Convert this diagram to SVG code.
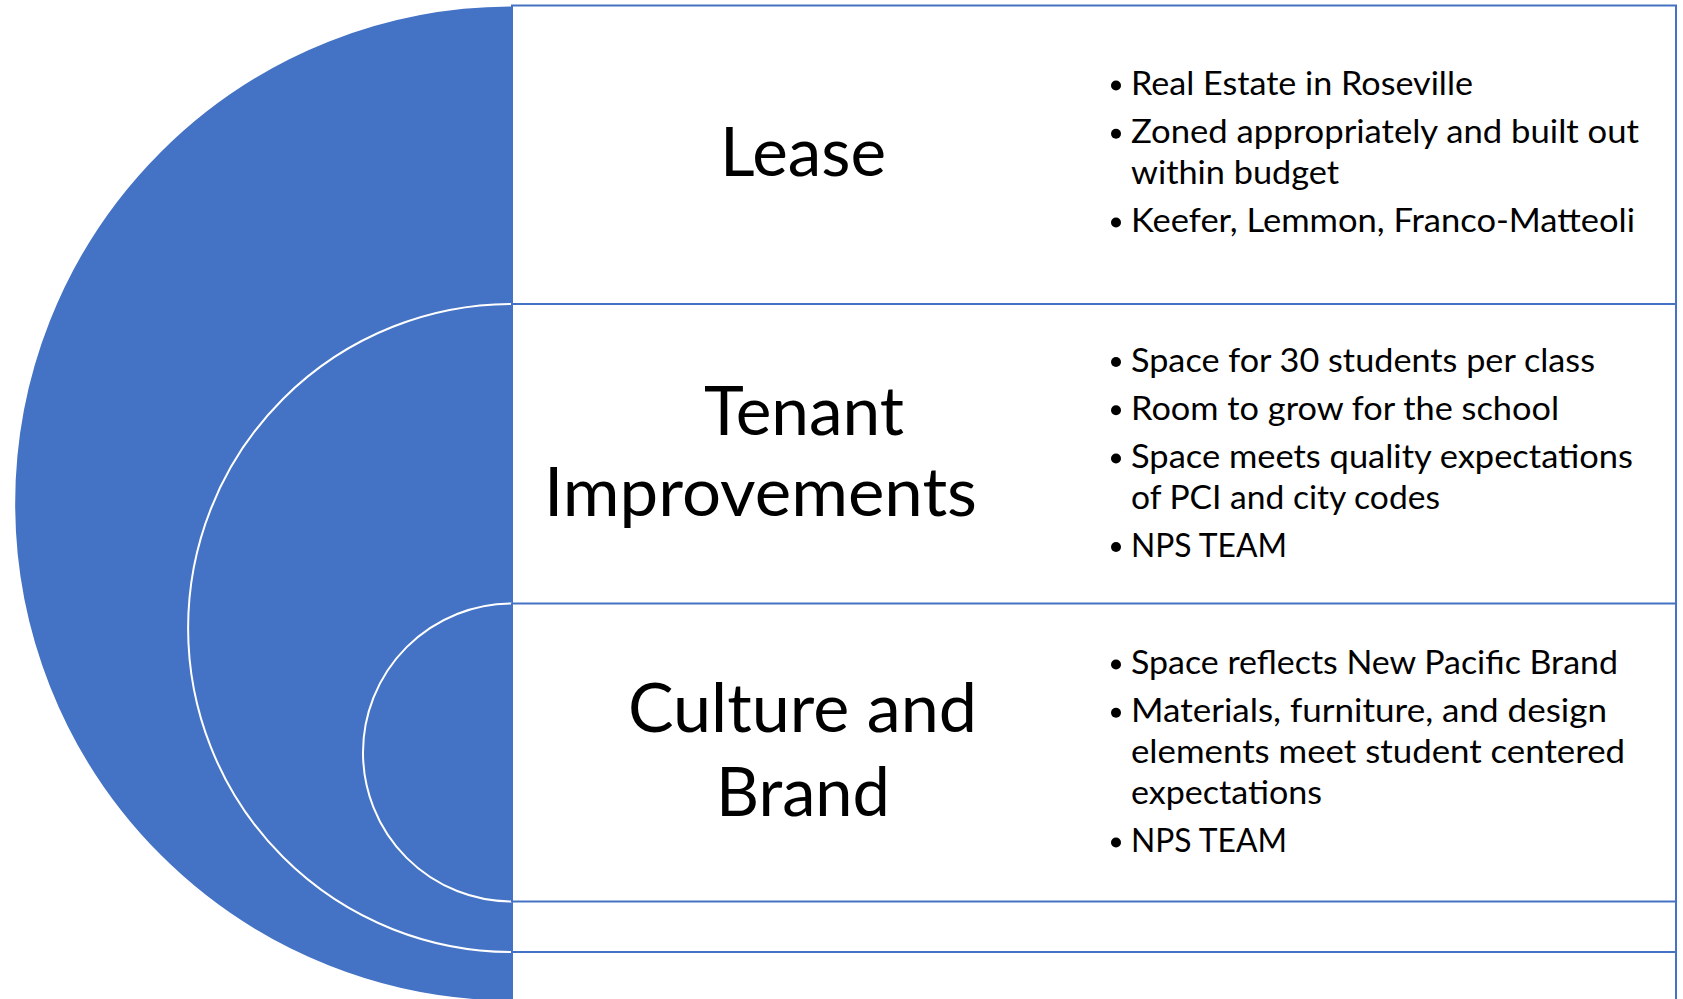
<svg xmlns="http://www.w3.org/2000/svg" width="1683" height="999" viewBox="0 0 1683 999">
<style>
.disk{fill:#4472C4;stroke:#FFFFFF;stroke-width:2}
.panel{fill:#FFFFFF;stroke:#4472C4;stroke-width:2}
.title{font-family:Lato,"Open Sans",sans-serif;font-size:68px;fill:#000000}
.item{font-family:Lato,"Open Sans",sans-serif;font-size:32px;fill:#000000}
.dot{fill:#000000}
</style>
<rect x="0" y="0" width="1683" height="999" fill="#FFFFFF"/>
<g id="lease">
<path class="disk" d="M512,5.5 A498,498 0 0 0 512,1001.5 Z" stroke="none"/>
<rect class="panel" x="512" y="5.5" width="1164" height="996"/>
<text class="title" x="720" y="176" textLength="166" lengthAdjust="spacingAndGlyphs">Lease</text>
<circle class="dot" cx="1116" cy="85.5" r="5"/>
<text class="item" x="1131" y="95" textLength="342" lengthAdjust="spacingAndGlyphs">Real Estate in Roseville</text>
<circle class="dot" cx="1116" cy="133.8" r="5"/>
<text class="item" x="1131" y="143.3" textLength="508" lengthAdjust="spacingAndGlyphs">Zoned appropriately and built out</text>
<text class="item" x="1131" y="184" textLength="208" lengthAdjust="spacingAndGlyphs">within budget</text>
<circle class="dot" cx="1116" cy="222.5" r="5"/>
<text class="item" x="1131" y="232" textLength="504" lengthAdjust="spacingAndGlyphs">Keefer, Lemmon, Franco-Matteoli</text>
</g>
<g id="tenant-improvements">
<path class="disk" d="M512,304 A324,324 0 0 0 512,952"/>
<rect class="panel" x="512" y="304" width="1164" height="648"/>
<text class="title" x="704" y="435" textLength="200" lengthAdjust="spacingAndGlyphs">Tenant</text>
<text class="title" x="544" y="515.5" textLength="433" lengthAdjust="spacingAndGlyphs">Improvements</text>
<circle class="dot" cx="1116" cy="362" r="5"/>
<text class="item" x="1131" y="371.5" textLength="464" lengthAdjust="spacingAndGlyphs">Space for 30 students per class</text>
<circle class="dot" cx="1116" cy="410.3" r="5"/>
<text class="item" x="1131" y="419.8" textLength="428" lengthAdjust="spacingAndGlyphs">Room to grow for the school</text>
<circle class="dot" cx="1116" cy="458.5" r="5"/>
<text class="item" x="1131" y="468" textLength="502" lengthAdjust="spacingAndGlyphs">Space meets quality expectations</text>
<text class="item" x="1131" y="509" textLength="309" lengthAdjust="spacingAndGlyphs">of PCI and city codes</text>
<circle class="dot" cx="1116" cy="547" r="5"/>
<text class="item" x="1131" y="556.5" textLength="156" lengthAdjust="spacingAndGlyphs">NPS TEAM</text>
</g>
<g id="culture-and-brand">
<path class="disk" d="M512,603.5 A149,149 0 0 0 512,901.5"/>
<rect class="panel" x="512" y="603.5" width="1164" height="298"/>
<text class="title" x="628" y="732" textLength="349" lengthAdjust="spacingAndGlyphs">Culture and</text>
<text class="title" x="716" y="815.5" textLength="174" lengthAdjust="spacingAndGlyphs">Brand</text>
<circle class="dot" cx="1116" cy="664.5" r="5"/>
<text class="item" x="1131" y="674" textLength="487" lengthAdjust="spacingAndGlyphs">Space reflects New Pacific Brand</text>
<circle class="dot" cx="1116" cy="712.8" r="5"/>
<text class="item" x="1131" y="722.3" textLength="476" lengthAdjust="spacingAndGlyphs">Materials, furniture, and design</text>
<text class="item" x="1131" y="763" textLength="494" lengthAdjust="spacingAndGlyphs">elements meet student centered</text>
<text class="item" x="1131" y="804" textLength="191" lengthAdjust="spacingAndGlyphs">expectations</text>
<circle class="dot" cx="1116" cy="842.5" r="5"/>
<text class="item" x="1131" y="852" textLength="156" lengthAdjust="spacingAndGlyphs">NPS TEAM</text>
</g>
<g id="connectors"/>
</svg>
